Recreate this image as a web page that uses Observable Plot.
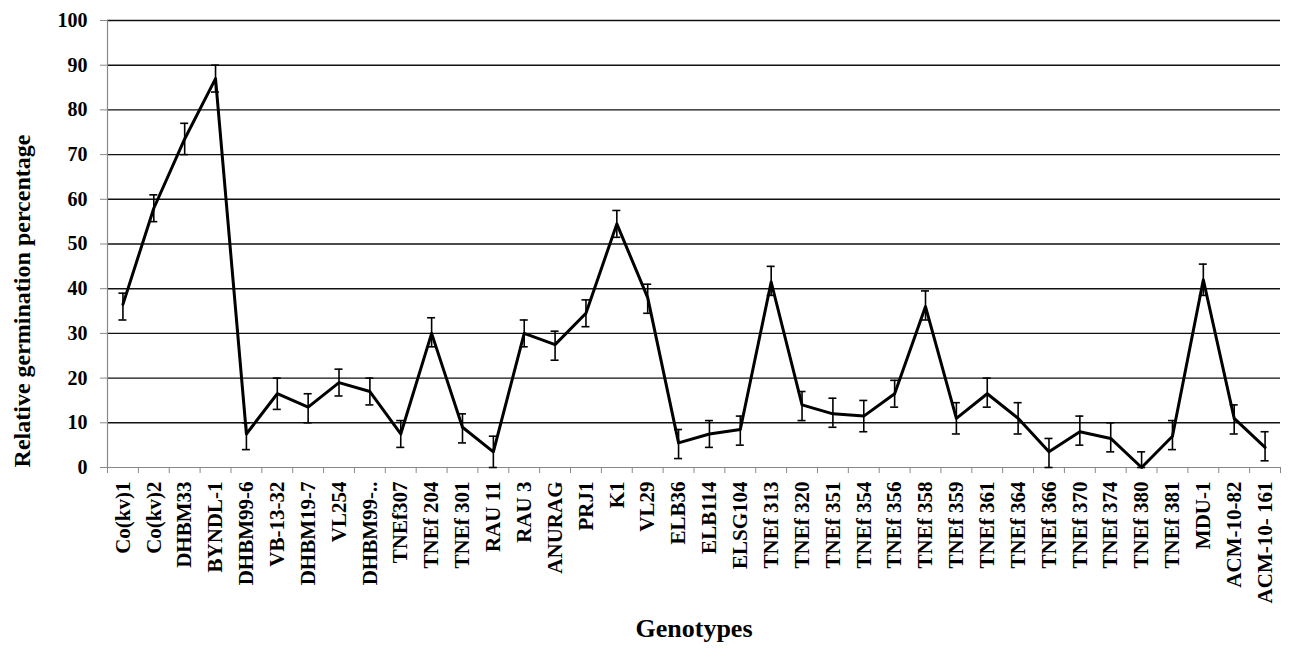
<!DOCTYPE html>
<html>
<head>
<meta charset="utf-8">
<script src="https://cdn.jsdelivr.net/npm/d3@7"></script>
<script src="https://cdn.jsdelivr.net/npm/@observablehq/plot@0.6"></script>
<style>
  body { margin: 0; background: #fff; }
  #chart svg { display: block; }
</style>
</head>
<body>
<div id="chart"></div>
<script>
const genotypes = ["Co(kv)1","Co(kv)2","DHBM33","BYNDL-1","DHBM99-6","VB-13-32","DHBM19-7","VL254","DHBM99-..",
  "TNEf307","TNEf 204","TNEf 301","RAU 11","RAU 3","ANURAG","PRJ1","K1","VL29","ELB36","ELB114","ELSG104",
  "TNEf 313","TNEf 320","TNEf 351","TNEf 354","TNEf 356","TNEf 358","TNEf 359","TNEf 361","TNEf 364","TNEf 366",
  "TNEf 370","TNEf 374","TNEf 380","TNEf 381","MDU-1","ACM-10-82","ACM-10- 161"];
const means = [36.5,58,73.5,87,7.5,16.5,13.5,19,17,7.5,30,9,3.5,30,27.5,34.5,54.5,38,5.5,7.5,8.5,
  41.5,14,12,11.5,16.5,36,11,16.5,11,3.5,8,6.5,0,7,42,11,4.5];
const errLow = [33,55,70,84,4,13,10,16,14,4.5,27,5.5,0,27,24,31.5,51.5,34.5,2,4.5,5,
  38.5,10.5,9,8,13.5,33,7.5,13.5,7.5,0,5,3.5,0,4,38.5,7.5,1.5];
const errHigh = [39,61,77,90,10,20,16.5,22,20,10.5,33.5,12,7,33,30.5,37.5,57.5,41,8.5,10.5,11.5,
  45,17,15.5,15,19.5,39.5,14.5,20,14.5,6.5,11.5,10,3.5,10.5,45.5,14,8];
const yTicks = [0,10,20,30,40,50,60,70,80,90,100];

const data = genotypes.map((g, i) => ({i, g, v: means[i], lo: errLow[i], hi: errHigh[i]}));
const idx = genotypes.map((g, i) => i);
const bounds = [-0.5, ...idx.map(i => i + 0.5)];
const capHalf = 0.13;
const font = "'Liberation Serif', 'Times New Roman', serif";

const plot = Plot.plot({
  width: 1292,
  height: 655,
  marginLeft: 107,
  marginRight: 12,
  marginTop: 20,
  marginBottom: 188,
  style: {fontFamily: font, fontWeight: "bold", color: "#000", background: "#fff"},
  x: {type: "linear", domain: [-0.5, genotypes.length - 0.5]},
  y: {domain: [0, 100]},
  marks: [
    Plot.ruleY(yTicks.filter(t => t > 0), {stroke: "#111", strokeWidth: 1.4}),
    Plot.ruleY([0], {stroke: "#888", strokeWidth: 1.2}),
    Plot.ruleX([-0.5], {y1: 0, y2: 100, stroke: "#888", strokeWidth: 1.2}),
    Plot.axisY({ticks: yTicks, tickSize: 7, tickPadding: 13, fontSize: 20, stroke: "#888", label: null}),
    Plot.axisX({ticks: bounds, tickSize: 6, tickFormat: () => "", stroke: "#888", label: null}),
    Plot.axisX({ticks: idx, tickSize: 0, tickPadding: 14, tickRotate: -90, fontSize: 21,
      tickFormat: i => genotypes[i], label: null}),
    Plot.ruleX(data, {x: "i", y1: "lo", y2: "hi", stroke: "#000", strokeWidth: 1.6}),
    Plot.ruleY(data, {y: "lo", x1: d => d.i - capHalf, x2: d => d.i + capHalf, stroke: "#000", strokeWidth: 1.6}),
    Plot.ruleY(data, {y: "hi", x1: d => d.i - capHalf, x2: d => d.i + capHalf, stroke: "#000", strokeWidth: 1.6}),
    Plot.line(data, {x: "i", y: "v", stroke: "#000", strokeWidth: 3}),
    Plot.text(["Relative germination percentage"], {frameAnchor: "left", textAnchor: "middle", rotate: -90,
      dx: -85, dy: 57, fontSize: 24, fontWeight: "bold", fill: "#000"}),
    Plot.text(["Genotypes"], {frameAnchor: "bottom", textAnchor: "middle", dy: 169, fontSize: 26,
      fontWeight: "bold", fill: "#000"})
  ]
});
document.getElementById("chart").appendChild(plot);
</script>
</body>
</html>
